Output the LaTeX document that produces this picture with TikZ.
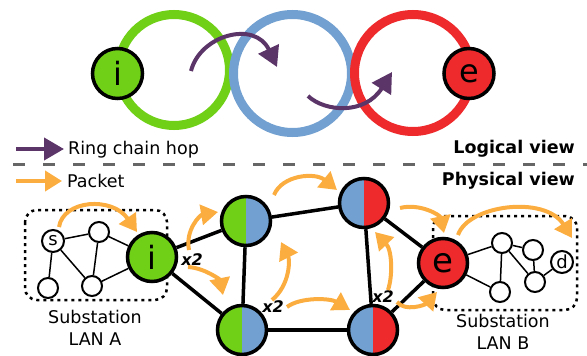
\documentclass[tikz,border=0pt]{standalone}
\usepackage{fontspec}
\setmainfont{DejaVu Sans}[BoldFont={DejaVu Sans Bold},ItalicFont={DejaVu Sans Oblique},BoldItalicFont={DejaVu Sans Bold Oblique}]
\usetikzlibrary{arrows.meta}
\definecolor{cgreen}{HTML}{70D018}
\definecolor{cblue}{HTML}{72A0D0}
\definecolor{cred}{HTML}{EE2A2D}
\definecolor{cpurple}{HTML}{5B3468}
\definecolor{corange}{HTML}{FBAD3F}
\definecolor{cgray}{HTML}{666666}
\begin{document}
\begin{tikzpicture}[x=1pt,y=-1pt,
  ring/.style={line width=9pt},
  bignode/.style={circle, draw=black, line width=3.5pt, minimum size=49pt, inner sep=0pt, font=\fontsize{32}{32}\selectfont},
  lannode/.style={circle, draw=black, line width=2pt, fill=white, minimum size=20pt, inner sep=0pt, font=\fontsize{18}{18}\selectfont},
  link/.style={line width=3.5pt},
  lanlink/.style={line width=1.5pt},
  hop/.style={draw=cpurple, line width=4pt, -{Triangle[length=20pt,width=22pt]}},
  pkt/.style={draw=corange, line width=4pt, -{Triangle[length=17pt,width=20pt]}},
  split/.style 2 args={path picture={
     \fill[#1] (path picture bounding box.south west) rectangle (path picture bounding box.north);
     \fill[#2] (path picture bounding box.north) rectangle (path picture bounding box.south east);}},
  lanbox/.style={dash pattern=on 3pt off 4pt, line width=2.5pt, rounded corners=12pt},
  xtwo/.style={font=\fontsize{16}{16}\selectfont\bfseries\itshape, inner sep=0pt},
  legend/.style={font=\fontsize{17.5}{17.5}\selectfont, inner sep=0pt},
  viewlabel/.style={font=\fontsize{17.5}{17.5}\selectfont\bfseries, inner sep=0pt},
  sublabel/.style={font=\fontsize{17.5}{22}\selectfont, align=center, inner sep=0pt}
]
\useasboundingbox (0,0) rectangle (587,356);

% ---------- Logical view ----------
\draw[ring, cgreen] (174,70) circle[radius=55.5];
\draw[ring, cblue] (292.5,73.5) circle[radius=59];
\draw[ring, cred] (413,73) circle[radius=58.5];

\node[bignode, fill=cgreen, minimum size=50pt] (li) at (117.5,73.5) {i};
\node[bignode, fill=cred, minimum size=50pt] (le) at (469,73.5) {e};

\coordinate (h1s) at (191,71);
\coordinate (h1e) at (277,67);
\coordinate (h2s) at (308,96);
\coordinate (h2e) at (392,72);
\draw[hop] (h1s) .. controls (200,35) and (255,20) .. (h1e);
\draw[hop] (h2s) .. controls (325,112) and (365,115) .. (h2e);

% legend
\coordinate (lg1s) at (16,149);
\coordinate (lg1e) at (64,149);
\draw[hop] (lg1s) -- (lg1e);
\node[legend, anchor=base west] (lgt1) at (68,154) {Ring chain hop};
\coordinate (lg2s) at (16,181);
\coordinate (lg2e) at (62,181);
\draw[pkt] (lg2s) -- (lg2e);
\node[legend, anchor=base west] (lgt2) at (67,187) {Packet};

\node[viewlabel, anchor=base east] (logv) at (575,153) {Logical view};
\node[viewlabel, anchor=base east] (phyv) at (575,185) {Physical view};

\coordinate (dl1) at (13,164);
\coordinate (dl2) at (587,164);
\draw[cgray, line width=3pt, dash pattern=on 12pt off 18pt] (dl1) -- (dl2);

% ---------- Physical view ----------
\draw[lanbox] (25,210) rectangle (167,300);
\draw[lanbox] (433,216) rectangle (577,310);

\node[bignode, fill=cgreen] (pi) at (152,257) {i};
\node[bignode, split={cgreen}{cblue}] (gb1) at (246,221) {};
\node[bignode, split={cgreen}{cblue}] (gb2) at (242,330) {};
\node[bignode, split={cblue}{cred}] (br1) at (364,203) {};
\node[bignode, split={cblue}{cred}] (br2) at (373,330) {};
\node[bignode, fill=cred, font=\fontsize{34}{34}\selectfont] (pe) at (443,263) {e};

\draw[link] (pi) -- (gb1);
\draw[link] (pi) -- (gb2);
\draw[link] (gb1) -- (gb2);
\draw[link] (gb1) -- (br1);
\draw[link] (gb2) -- (br2);
\draw[link] (br1) -- (br2);
\draw[link] (br1) -- (pe);
\draw[link] (br2) -- (pe);

% LAN A
\node[lannode, minimum size=22pt] (s) at (53,241) {s};
\node[lannode] (a1) at (99,232) {};
\node[lannode] (a2) at (48,288) {};
\node[lannode] (a3) at (92,286) {};
\draw[lanlink] (s) -- (a1);
\draw[lanlink] (s) -- (a2);
\draw[lanlink] (s) -- (a3);
\draw[lanlink] (a1) -- (a3);
\draw[lanlink] (a1) -- (pi);
\draw[lanlink] (a3) -- (pi);

% LAN B
\node[lannode] (b1) at (502,243) {};
\node[lannode] (b2) at (533,250) {};
\node[lannode, minimum size=22pt] (d) at (562,262) {d};
\node[lannode] (b3) at (535,282) {};
\node[lannode] (b4) at (500,292) {};
\draw[lanlink] (pe) -- (b1);
\draw[lanlink] (pe) -- (b4);
\draw[lanlink] (b1) -- (b2);
\draw[lanlink] (b1) -- (b4);
\draw[lanlink] (b1) -- (b3);
\draw[lanlink] (b2) -- (b3);
\draw[lanlink] (b3) -- (d);

\node[sublabel] (laba) at (95,328) {Substation\\LAN A};
\node[sublabel] (labb) at (503,332) {Substation\\LAN B};

% x2 labels
\node[xtwo] (x2a) at (192,260) {x2};
\node[xtwo] (x2b) at (273,307) {x2};
\node[xtwo] (x2c) at (383,297) {x2};

% packet arrows
\draw[pkt] (59,227) .. controls (63,200) and (112,196) .. (137,232);
\draw[pkt] (189,250) .. controls (185,230) and (200,215) .. (218,212);
\draw[pkt] (188,267) .. controls (205,268) and (220,280) .. (223,295);
\draw[pkt] (272,300) .. controls (290,285) and (290,260) .. (281,242);
\draw[pkt] (274,195) .. controls (282,175) and (315,172) .. (337,190);
\draw[pkt] (287,307) .. controls (300,297) and (330,298) .. (350,310);
\draw[pkt] (388,290) .. controls (393,275) and (392,250) .. (375,232);
\draw[pkt] (400,208) .. controls (420,203) and (440,215) .. (444,233);
\draw[pkt] (397,302) .. controls (405,312) and (425,305) .. (437,292);
\draw[pkt] (458,235) .. controls (468,205) and (545,195) .. (572,238);
\end{tikzpicture}
\end{document}
